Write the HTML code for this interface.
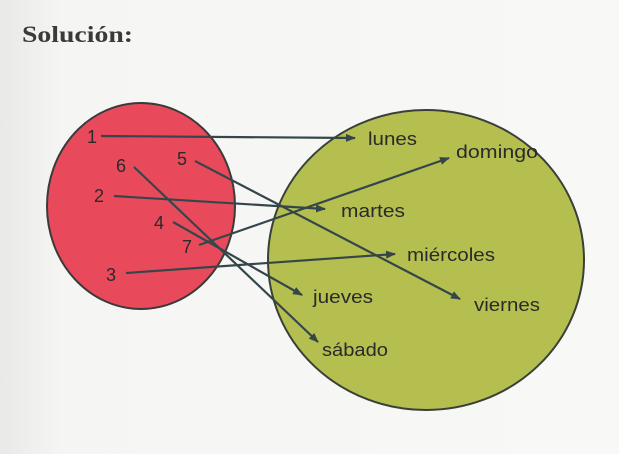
<!DOCTYPE html>
<html><head><meta charset="utf-8"><style>
html,body{margin:0;padding:0;background:#f3f3f1;}
svg{display:block}
</style></head><body>
<svg width="619" height="454" viewBox="0 0 619 454" xmlns="http://www.w3.org/2000/svg">
<defs>
<linearGradient id="bg" x1="0" x2="1" y1="0" y2="0"><stop offset="0" stop-color="#e9e9e7"/><stop offset="0.1" stop-color="#f5f5f3"/><stop offset="1" stop-color="#f8f8f6"/></linearGradient>
<marker id="a" markerWidth="10" markerHeight="8" refX="9" refY="4" orient="auto" markerUnits="userSpaceOnUse"><path d="M0,0 L10,4 L0,8 Z" fill="#34464a"/></marker>
</defs>
<rect width="619" height="454" fill="url(#bg)"/>
<text x="22" y="42" font-family="Liberation Serif, serif" font-weight="bold" font-size="23" fill="#3a3a3a" textLength="111" lengthAdjust="spacingAndGlyphs">Solución:</text>
<ellipse cx="141" cy="206" rx="94" ry="103" fill="#e84a5c" stroke="#3a3a3a" stroke-width="2"/>
<ellipse cx="426" cy="260" rx="158" ry="150" fill="#b5bf50" stroke="#3a4038" stroke-width="2"/>
<g font-family="Liberation Sans, sans-serif" font-size="18" fill="#2a2a2a">
<text x="87" y="143">1</text>
<text x="94" y="202">2</text>
<text x="106" y="281">3</text>
<text x="154" y="229">4</text>
<text x="177" y="165">5</text>
<text x="116" y="172">6</text>
<text x="182" y="253">7</text>
<text x="368" y="145" textLength="49" lengthAdjust="spacingAndGlyphs">lunes</text>
<text x="456" y="158" textLength="82" lengthAdjust="spacingAndGlyphs">domingo</text>
<text x="341" y="217" textLength="64" lengthAdjust="spacingAndGlyphs">martes</text>
<text x="407" y="261" textLength="88" lengthAdjust="spacingAndGlyphs">miércoles</text>
<text x="313" y="303" textLength="60" lengthAdjust="spacingAndGlyphs">jueves</text>
<text x="474" y="311" textLength="66" lengthAdjust="spacingAndGlyphs">viernes</text>
<text x="322" y="356" textLength="66" lengthAdjust="spacingAndGlyphs">sábado</text>
</g>
<g stroke="#34464a" stroke-width="2.2" fill="none" marker-end="url(#a)">
<line x1="101" y1="136" x2="355" y2="138"/>
<line x1="114" y1="196" x2="325" y2="209"/>
<line x1="126" y1="273" x2="395" y2="254"/>
<line x1="173" y1="222" x2="302" y2="295"/>
<line x1="195" y1="161" x2="460" y2="299"/>
<line x1="134" y1="167" x2="318" y2="342"/>
<line x1="199" y1="245" x2="449" y2="158"/>
</g>
</svg>
</body></html>
